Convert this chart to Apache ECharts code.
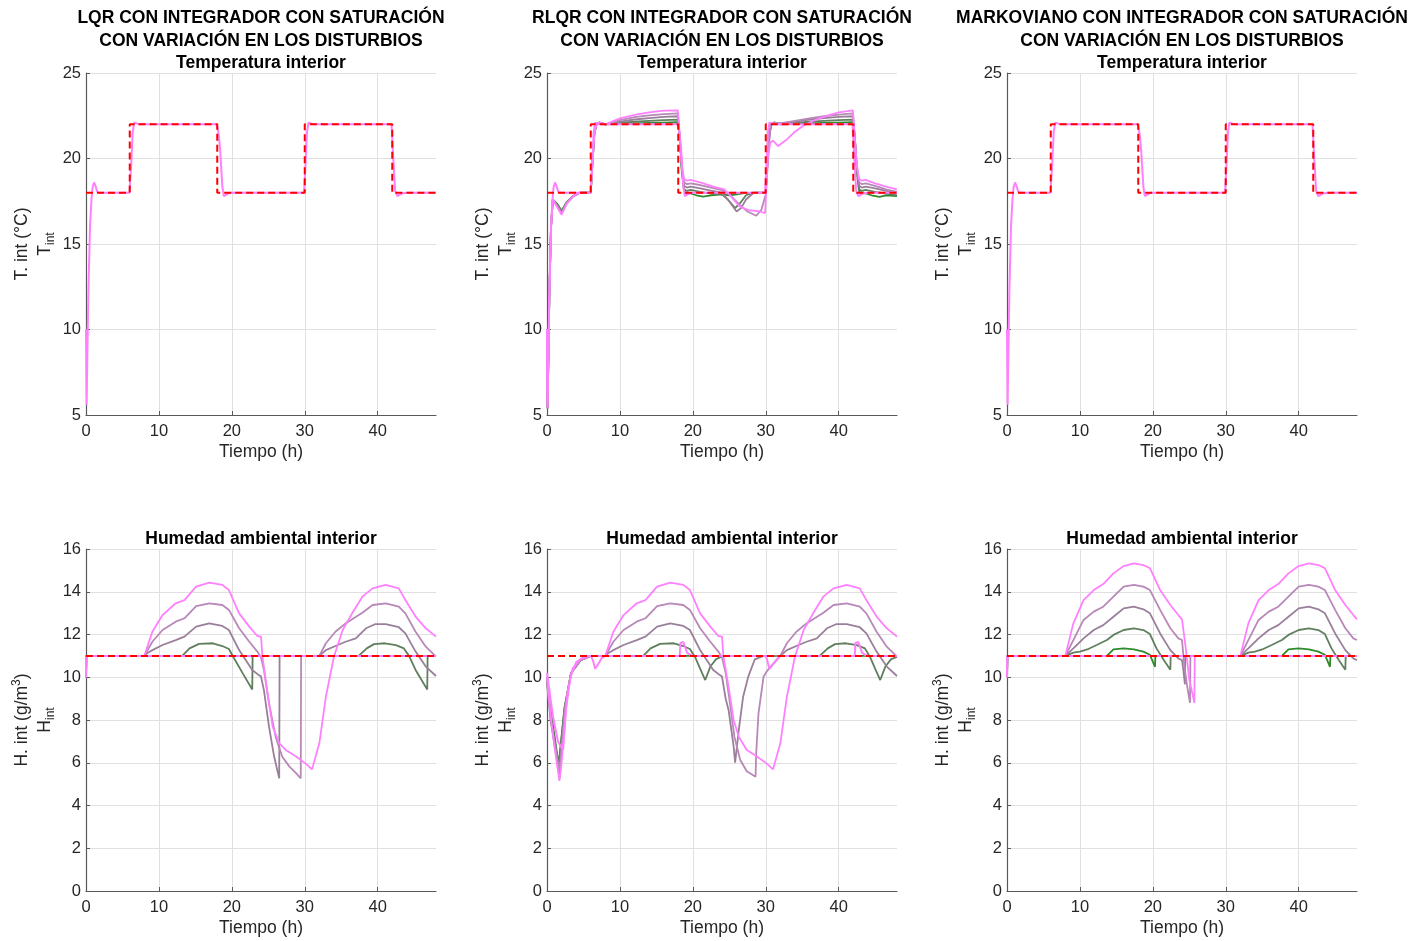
<!DOCTYPE html>
<html>
<head>
<meta charset="utf-8">
<script src="https://cdn.jsdelivr.net/npm/echarts@6/dist/echarts.min.js"></script>
<style>
  html, body { margin: 0; padding: 0; background: #fff; }
  #chart { width: 1416px; height: 941px; }
</style>
</head>
<body>
<div id="chart"></div>
<script>
// ---- data (t in hours, value) ----
const xTicks = [0, 10, 20, 30, 40]
const refT = [[0, 18], [6, 18], [6, 22], [18, 22], [18, 18], [30, 18], [30, 22], [42, 22], [42, 18], [48, 18]]
const refH = [[0, 11], [48, 11]]

// pink curve that tracks the reference (all three temperature plots)
const trackT = [[0, 10], [0.08, 5.6], [0.32, 12.1], [0.55, 16], [0.75, 17.6], [0.9, 18.3], [1.1, 18.6], [1.3, 18.4], [1.55, 18.05], [1.9, 18],
  [5.95, 18], [6.2, 19.6], [6.4, 21.5], [6.6, 22.1], [6.85, 22.2], [7.3, 22], [17.95, 22], [18.2, 21.4], [18.4, 20.5], [18.7, 18.35],
  [18.9, 17.8], [19.3, 17.9], [19.8, 18], [29.9, 18], [30.1, 19.6], [30.3, 21.5], [30.5, 22.1], [30.75, 22.2], [31.2, 22],
  [41.9, 22], [42.1, 20.3], [42.4, 18.1], [42.7, 17.8], [43.3, 17.95], [44, 18], [48, 18]]

// RLQR temperature
const rlqrT1 = [[0, 10], [0.08, 5.4], [0.32, 12], [0.55, 16], [0.8, 17.6], [1.0, 17.7], [1.4, 17.35], [2.0, 16.95], [2.7, 17.45], [3.6, 17.8], [4.5, 18], [6, 18],
  [6.2, 19.5], [6.5, 21.5], [6.8, 22], [7.2, 22.1], [8, 22], [10, 22.02], [12, 22.05], [14, 22.08], [16, 22.1], [17.95, 22.12],
  [18.2, 21.3], [18.5, 19.2], [18.8, 18.1], [19.1, 17.95], [19.6, 17.98], [20.5, 17.85], [21.4, 17.77], [22.5, 17.85], [24, 17.9], [25, 17.85], [26, 17.9], [27, 17.98], [30, 18],
  [30.2, 19.5], [30.5, 21.5], [30.8, 22], [31.2, 22.1], [32, 22], [34, 22.02], [36, 22.05], [38, 22.08], [40, 22.1], [41.95, 22.12],
  [42.2, 21.3], [42.5, 19.2], [42.8, 18.1], [43.1, 17.95], [43.6, 17.98], [44.5, 17.85], [45.6, 17.75], [46.5, 17.85], [48, 17.8]]
const rlqrT2 = [[0, 10], [0.08, 5.4], [0.32, 12], [0.55, 16], [0.8, 17.6], [1.0, 17.7], [1.4, 17.3], [2.0, 16.9], [2.7, 17.45], [3.6, 17.8], [4.5, 18], [6, 18],
  [6.2, 19.5], [6.5, 21.5], [6.8, 22], [7.2, 22.1], [8, 22], [10, 22.08], [12, 22.15], [14, 22.2], [16, 22.25], [17.95, 22.27],
  [18.2, 21.3], [18.5, 19.3], [18.8, 18.2], [19.2, 18.1], [19.7, 18.16], [21, 18.05], [22.5, 17.95], [24, 17.9], [24.8, 17.6], [25.8, 17.1], [26.5, 17.4], [27.3, 17.85], [28.3, 18], [30, 18],
  [30.2, 19.5], [30.5, 21.5], [30.8, 22], [31.2, 22.1], [32, 22.02], [34, 22.08], [36, 22.15], [38, 22.2], [40, 22.25], [41.95, 22.27],
  [42.2, 21.3], [42.5, 19.3], [42.8, 18.2], [43.2, 18.1], [43.7, 18.16], [45, 18.05], [46.5, 17.95], [48, 17.85]]
const rlqrT3 = [[0, 10], [0.08, 5.4], [0.32, 12], [0.55, 16], [0.8, 17.6], [1.0, 17.65], [1.4, 17.25], [2.0, 16.85], [2.7, 17.4], [3.6, 17.8], [4.5, 18], [6, 18],
  [6.2, 19.5], [6.5, 21.5], [6.8, 22], [7.2, 22.1], [8, 22], [10, 22.15], [12, 22.28], [14, 22.36], [16, 22.43], [17.95, 22.47],
  [18.2, 21.3], [18.5, 19.4], [18.8, 18.4], [19.2, 18.3], [19.7, 18.36], [21, 18.25], [22.5, 18.12], [24, 18.0], [24.8, 17.6], [26, 16.9], [26.6, 17.1], [27.3, 17.6], [28.3, 17.98], [29, 18], [30, 18],
  [30.2, 19.5], [30.5, 21.5], [30.8, 22], [31.2, 22.1], [32, 22.05], [34, 22.15], [36, 22.28], [38, 22.36], [40, 22.43], [41.95, 22.47],
  [42.2, 21.3], [42.5, 19.4], [42.8, 18.4], [43.2, 18.3], [43.7, 18.36], [45, 18.25], [46.5, 18.1], [48, 17.95]]
const rlqrT4 = [[0, 10], [0.08, 5.4], [0.32, 12], [0.55, 16], [0.8, 17.6], [1.0, 17.65], [1.4, 17.2], [2.0, 16.8], [2.7, 17.4], [3.6, 17.8], [4.5, 18], [6, 18],
  [6.2, 19.5], [6.5, 21.5], [6.8, 22], [7.2, 22.1], [8, 22], [10, 22.25], [12, 22.42], [14, 22.52], [16, 22.6], [17.95, 22.64],
  [18.2, 21.3], [18.5, 19.5], [18.8, 18.6], [19.2, 18.5], [19.7, 18.55], [21, 18.45], [22.5, 18.3], [24, 18.15], [25, 17.9], [26.4, 17.3], [27.5, 16.9], [28.7, 16.65], [29.4, 17.0], [30, 17.9],
  [30.3, 20], [30.7, 22], [31, 22.1], [32, 22.05], [34, 22.2], [36, 22.35], [38, 22.47], [40, 22.57], [41.95, 22.64],
  [42.2, 21.3], [42.5, 19.5], [42.8, 18.6], [43.2, 18.5], [43.7, 18.55], [45, 18.4], [46.5, 18.2], [48, 18.05]]
const rlqrT5 = [[0, 10], [0.08, 5.4], [0.32, 12], [0.55, 16], [0.8, 17.6], [1.0, 17.6], [1.4, 17.15], [2.0, 16.7], [2.7, 17.35], [3.6, 17.8], [4.5, 18], [6, 18],
  [6.2, 19.5], [6.5, 21.5], [6.8, 22], [7.2, 22.1], [8, 22], [10, 22.35], [12, 22.55], [14, 22.7], [16, 22.8], [17.95, 22.82],
  [18.2, 21.3], [18.5, 19.6], [18.8, 18.8], [19.2, 18.7], [19.7, 18.75], [21, 18.6], [22.8, 18.35], [24.3, 18.2], [25, 17.9], [26.4, 17.2], [27.5, 17.0], [29.2, 16.9], [29.9, 16.8],
  [30.05, 18], [30.3, 20], [30.6, 20.9], [31, 21.05], [31.7, 20.73], [32.8, 21.08], [34, 21.57], [35.1, 21.9], [36.5, 22.2], [38, 22.45], [40, 22.7], [41.95, 22.82],
  [42.2, 21.3], [42.5, 19.6], [42.8, 18.8], [43.2, 18.7], [43.7, 18.75], [45, 18.55], [46.5, 18.35], [48, 18.2]]

// humidity: pink curve that tracks the reference
const trackH = [[0, 10], [0.05, 11], [48, 11]]
const rlqrTrackH = [[0, 10.2], [0.8, 8.2], [1.5, 7], [2.2, 6.6], [2.6, 8.5], [3.2, 10], [4, 10.7], [5, 10.95], [6, 11], [6.3, 10.8], [6.6, 10.4], [7, 10.6], [7.5, 10.9], [8, 11],
  [18.2, 11], [18.3, 11.6], [18.7, 11.65], [19.2, 11.15], [19.6, 11.05], [20, 11], [30, 11], [30.2, 10.8], [30.5, 10.4], [31, 10.6], [32, 11],
  [42.2, 11], [42.3, 11.6], [42.7, 11.65], [43.2, 11.15], [43.6, 11.05], [44, 11], [48, 11]]

// LQR humidity
const lqrH1 = [[0, 10], [0.05, 11], [48, 11]]
const lqrH2 = [[0, 10], [0.05, 11], [13.2, 11], [14.2, 11.35], [15.5, 11.56], [17.4, 11.59], [18.7, 11.46], [19.6, 11.32], [20.3, 10.89], [21.5, 10.18], [22.8, 9.43], [22.85, 11],
  [37.4, 11], [38.5, 11.35], [39.5, 11.55], [41, 11.59], [42.5, 11.5], [43.6, 11.35], [44.3, 11.0], [45.2, 10.34], [46.8, 9.43], [46.85, 11], [48, 11]]
const lqrH3 = [[0, 10], [0.05, 11], [8, 11], [8.5, 11.15], [9.1, 11.27], [10.5, 11.51], [12.3, 11.74], [13.5, 11.9], [15.1, 12.37], [16.9, 12.52], [18.7, 12.4], [19.6, 12.21],
  [21, 11.27], [21.9, 10.81], [22.8, 10.34], [23.7, 10.1], [24, 10.03], [24.4, 9.4], [25.1, 7.69], [25.8, 6.29], [26.5, 5.27], [26.55, 11], [32, 11],
  [32.9, 11.27], [34.2, 11.46], [35.6, 11.66], [37, 11.82], [38.4, 12.29], [39.7, 12.49], [41.1, 12.49], [42.9, 12.34], [43.8, 12.05], [45.2, 11.2], [46.6, 10.5], [48, 10.06]]
const lqrH4 = [[0, 10], [0.05, 11], [8, 11], [8.5, 11.3], [9.1, 11.66], [10.5, 12.21], [12.3, 12.6], [13.5, 12.76], [15.1, 13.33], [16.9, 13.46], [18.7, 13.38], [19.6, 13.15],
  [21, 12.29], [22.4, 11.66], [23.5, 11.2], [24, 10.93], [24.4, 10.34], [25.1, 8.78], [26, 7.22], [26.9, 6.29], [27.9, 5.82], [28.8, 5.51], [29.45, 5.27], [29.5, 11], [32, 11],
  [32.9, 11.59], [34.2, 12.13], [35.6, 12.52], [36.5, 12.71], [37.9, 13.02], [39.3, 13.38], [41.1, 13.46], [42.9, 13.3], [43.8, 12.99], [45.2, 12.13], [46.6, 11.43], [48, 10.96]]
const lqrH5 = [[0, 10], [0.05, 11], [8, 11], [9.1, 12.13], [10.5, 12.91], [12.3, 13.46], [13.5, 13.61], [15.1, 14.24], [16.9, 14.43], [18.7, 14.32], [19.6, 14.08],
  [21, 12.99], [22.4, 12.37], [23.5, 11.93], [24, 11.9], [24.2, 10.96], [24.9, 9.25], [25.6, 7.69], [26.5, 6.91], [27.4, 6.6], [28.8, 6.29], [30.1, 5.97], [31, 5.69],
  [32, 6.91], [32.9, 9.09], [34, 10.96], [35.2, 12.21], [36.5, 12.99], [37.9, 13.77], [39.3, 14.16], [41.1, 14.32], [42.9, 14.16], [43.8, 13.61], [45.2, 12.84], [46.6, 12.29], [48, 11.9]]

// RLQR humidity
const rlqrH1 = [[0, 10], [0.5, 8.5], [1.6, 5.9], [2.4, 8.5], [3.3, 10.2], [4.6, 10.8], [6, 11], [48, 11]]
const rlqrH2 = [[0, 9.8], [0.5, 8.3], [1.6, 5.8], [2.4, 8.6], [3.3, 10.2], [4.6, 10.8], [6, 11], [13.2, 11], [14.2, 11.35], [15.5, 11.56], [17.4, 11.59], [18.7, 11.46], [19.6, 11.32],
  [20.3, 10.95], [21, 10.4], [21.7, 9.87], [22.4, 10.5], [23.2, 10.85], [24, 10.98], [25, 11], [37.4, 11], [38.5, 11.35], [39.5, 11.55], [41, 11.59], [42.5, 11.5], [43.6, 11.35],
  [44.3, 10.95], [45, 10.4], [45.7, 9.87], [46.4, 10.5], [47.2, 10.85], [48, 10.95]]
const rlqrH3 = [[0, 9.7], [0.5, 8], [1.75, 5.3], [2.5, 8.6], [3.3, 10.2], [4.6, 10.8], [6, 11], [8, 11], [8.5, 11.15], [9.1, 11.27], [10.5, 11.51], [12.3, 11.74], [13.5, 11.9],
  [15.1, 12.37], [16.9, 12.52], [18.7, 12.4], [19.6, 12.21], [21, 11.27], [21.9, 10.81], [22.8, 10.34], [23.7, 10.1], [24, 10.03], [24.5, 9.0], [24.9, 8.47], [25.6, 6.75], [25.8, 6.0],
  [26.3, 7.53], [26.9, 9.09], [27.6, 10.03], [28.5, 10.84], [29.7, 11], [32, 11], [32.9, 11.27], [34.2, 11.46], [35.6, 11.66], [37, 11.82], [38.4, 12.29], [39.7, 12.49], [41.1, 12.49],
  [42.9, 12.34], [43.8, 12.05], [45.2, 11.2], [46.6, 10.5], [48, 10.06]]
const rlqrH4 = [[0, 9.9], [0.5, 8], [1.7, 5.6], [2.5, 8.6], [3.3, 10.2], [4.6, 10.8], [6, 11], [8, 11], [8.5, 11.3], [9.1, 11.66], [10.5, 12.21], [12.3, 12.6], [13.5, 12.76],
  [15.1, 13.33], [16.9, 13.46], [18.7, 13.38], [19.6, 13.15], [21, 12.29], [22.4, 11.66], [23.5, 11.2], [24, 10.93], [24.5, 10.2], [25, 9.0], [25.7, 7.22], [26.5, 6.13], [27.4, 5.6],
  [28.6, 5.35], [28.7, 6.5], [29.0, 8.3], [29.7, 10.03], [30.2, 10.3], [30.7, 10.5], [31.3, 10.75], [32, 11], [32.9, 11.59], [34.2, 12.13], [35.6, 12.52], [36.5, 12.71], [37.9, 13.02],
  [39.3, 13.38], [41.1, 13.46], [42.9, 13.3], [43.8, 12.99], [45.2, 12.13], [46.6, 11.43], [48, 10.96]]
const rlqrH5 = [[0, 10], [0.5, 8.2], [1.0, 6.8], [1.7, 5.15], [2.0, 6.0], [2.4, 7.6], [2.8, 9.3], [3.5, 10.4], [4.6, 10.85], [6, 11], [8, 11], [9.1, 12.13], [10.5, 12.91],
  [12.3, 13.46], [13.5, 13.61], [15.1, 14.24], [16.9, 14.43], [18.7, 14.32], [19.6, 14.08], [21, 12.99], [22.4, 12.37], [23.5, 11.93], [24, 11.9], [24.2, 10.96], [24.9, 9.56],
  [25.6, 8.0], [26.3, 7.22], [27.4, 6.6], [28.8, 6.29], [30.1, 5.97], [31, 5.69], [32, 6.91], [32.9, 9.09], [34, 10.96], [35.2, 12.21], [36.5, 12.99], [37.9, 13.77], [39.3, 14.16],
  [41.1, 14.32], [42.9, 14.16], [43.8, 13.61], [45.2, 12.84], [46.6, 12.29], [48, 11.9]]

// Markoviano humidity
const markH1 = [[0, 10], [0.05, 11], [13.7, 11], [14.6, 11.3], [16, 11.35], [17.4, 11.3], [18.7, 11.2], [19.6, 11.05], [20.3, 10.49], [20.35, 11],
  [37.7, 11], [38.6, 11.3], [40, 11.35], [41.4, 11.3], [42.7, 11.2], [43.6, 11.05], [44.3, 10.49], [44.35, 11], [48, 11]]
const markH2 = [[0, 10], [0.05, 11], [8, 11], [9.1, 11.15], [10, 11.2], [11, 11.3], [12.3, 11.51], [13.7, 11.74], [14.6, 11.98], [16, 12.21], [17.4, 12.29], [18.7, 12.21], [19.6, 12.02],
  [20.5, 11.35], [21.5, 10.81], [22.4, 10.35], [22.45, 11], [32, 11], [33.1, 11.15], [34, 11.2], [35, 11.3], [36.3, 11.51], [37.7, 11.74], [38.6, 11.98], [40, 12.21], [41.4, 12.29],
  [42.7, 12.21], [43.6, 12.02], [44.5, 11.35], [45.5, 10.81], [46.4, 10.35], [46.45, 11], [48, 11]]
const markH3 = [[0, 10], [0.05, 11], [8, 11], [9.1, 11.35], [10.5, 11.82], [11.9, 12.21], [13.2, 12.44], [14.6, 12.83], [16, 13.22], [17.4, 13.3], [18.7, 13.18], [19.6, 12.99],
  [21, 12.05], [22.4, 11.27], [23.5, 10.88], [24, 10.8], [24.2, 10.3], [24.4, 9.67], [24.45, 11], [32, 11], [33.1, 11.35], [34.5, 11.82], [35.9, 12.21], [37.2, 12.44], [38.6, 12.83],
  [40, 13.22], [41.4, 13.3], [42.7, 13.18], [43.6, 12.99], [45, 12.05], [46.4, 11.27], [47.5, 10.88], [48, 10.8]]
const markH4 = [[0, 10], [0.05, 11], [8, 11], [9.1, 11.74], [10.5, 12.68], [11.9, 13.07], [13.2, 13.3], [14.6, 13.77], [16, 14.24], [17.4, 14.32], [18.7, 14.24], [19.6, 14.08],
  [21, 13.15], [22.4, 12.29], [23.5, 11.82], [24, 11.74], [24.3, 10.6], [24.7, 9.6], [25.1, 8.8], [25.15, 11], [32, 11], [33.1, 11.74], [34.5, 12.68], [35.9, 13.07], [37.2, 13.3],
  [38.6, 13.77], [40, 14.24], [41.4, 14.32], [42.7, 14.24], [43.6, 14.08], [45, 13.15], [46.4, 12.29], [47.5, 11.82], [48, 11.74]]
const markH5 = [[0, 10], [0.05, 11], [8, 11], [9.1, 12.52], [10.5, 13.61], [11.9, 14.08], [13.2, 14.36], [14.6, 14.86], [16, 15.2], [17.4, 15.33], [18.7, 15.25], [19.6, 15.1],
  [21, 14.08], [22.4, 13.38], [23.5, 12.91], [24, 12.71], [24.2, 12.75], [24.5, 11.4], [25, 9.9], [25.7, 8.8], [25.75, 11], [32, 11], [33.1, 12.52], [34.5, 13.61], [35.9, 14.08],
  [37.2, 14.36], [38.6, 14.86], [40, 15.2], [41.4, 15.33], [42.7, 15.25], [43.6, 15.1], [45, 14.08], [46.4, 13.38], [47.5, 12.91], [48, 12.71]]

// ---- styling ----
const FONT = '"Liberation Sans", Arial, sans-serif'
const TXT = '#262626'
const AXIS = '#595959'
const lineColors = ['#2f8a2f', '#5f7f5f', '#9a7f9a', '#b888b8', '#ff80ff']
const PINK = '#ff80ff'

const colX = [86, 547, 1007]
const rowY = [73, 549]
const plotW = 350
const plotH = 342

const topTitles = [
  'LQR CON INTEGRADOR CON SATURACIÓN\nCON VARIACIÓN EN LOS DISTURBIOS\nTemperatura interior',
  'RLQR CON INTEGRADOR CON SATURACIÓN\nCON VARIACIÓN EN LOS DISTURBIOS\nTemperatura interior',
  'MARKOVIANO CON INTEGRADOR CON SATURACIÓN\nCON VARIACIÓN EN LOS DISTURBIOS\nTemperatura interior'
]

const panels = [
  { row: 0, col: 0, curves: [], track: trackT, ref: refT },
  { row: 0, col: 1, curves: [rlqrT1, rlqrT2, rlqrT3, rlqrT4, rlqrT5], track: trackT, ref: refT },
  { row: 0, col: 2, curves: [], track: trackT, ref: refT },
  { row: 1, col: 0, curves: [lqrH1, lqrH2, lqrH3, lqrH4, lqrH5], track: trackH, ref: refH },
  { row: 1, col: 1, curves: [rlqrH1, rlqrH2, rlqrH3, rlqrH4, rlqrH5], track: rlqrTrackH, ref: refH },
  { row: 1, col: 2, curves: [markH1, markH2, markH3, markH4, markH5], track: trackH, ref: refH }
]

const chart = echarts.init(document.getElementById('chart'), null, { renderer: 'canvas' })

const grid = [], xAxis = [], yAxis = [], series = [], title = []

topTitles.forEach((t, i) => {
  title.push({
    text: t, left: colX[i] + plotW / 2, top: 7, textAlign: 'center', padding: 0,
    textStyle: { fontFamily: FONT, fontSize: 17.5, fontWeight: 'bold', color: '#000', lineHeight: 22.5 }
  })
  title.push({
    text: 'Humedad ambiental interior', left: colX[i] + plotW / 2, top: 528, textAlign: 'center', padding: 0,
    textStyle: { fontFamily: FONT, fontSize: 17.5, fontWeight: 'bold', color: '#000', lineHeight: 22.5 }
  })
})

const richName = {
  a: { fontFamily: FONT, fontSize: 17.5, color: TXT, lineHeight: 23 },
  s: { fontFamily: FONT, fontSize: 12, color: TXT, lineHeight: 23, verticalAlign: 'bottom' },
  p: { fontFamily: FONT, fontSize: 12, color: TXT, lineHeight: 23, verticalAlign: 'top' }
}

panels.forEach((p, i) => {
  const isTemp = p.row === 0
  grid.push({ left: colX[p.col], top: rowY[p.row], width: plotW, height: plotH, outerBoundsMode: 'none', containLabel: false })
  xAxis.push({
    type: 'value', gridIndex: i, min: 0, max: 48, interval: 10,
    name: 'Tiempo (h)', nameLocation: 'middle', nameGap: 28,
    nameTextStyle: { fontFamily: FONT, fontSize: 17.5, color: TXT },
    axisLine: { onZero: false, lineStyle: { color: AXIS, width: 1.2 } },
    axisTick: { inside: true, length: 4, lineStyle: { color: AXIS } },
    axisLabel: { fontFamily: FONT, fontSize: 16.5, color: TXT, margin: 8, showMaxLabel: false,
      formatter: v => (xTicks.indexOf(v) >= 0 ? String(v) : '') },
    splitLine: { show: true, showMaxLine: false, lineStyle: { color: '#e0e0e0', width: 1 } }
  })
  yAxis.push({
    type: 'value', gridIndex: i,
    min: isTemp ? 5 : 0, max: isTemp ? 25 : 16, interval: isTemp ? 5 : 2,
    name: isTemp ? '{a|T. int (°C)}\n{a|T}{s|int}' : '{a|H. int (g/m}{p|3}{a|)}\n{a|H}{s|int}',
    nameLocation: 'middle', nameGap: 29, nameRotate: 90,
    nameTextStyle: { fontFamily: FONT, fontSize: 17.5, color: TXT, rich: richName },
    axisLine: { show: true, onZero: false, lineStyle: { color: AXIS, width: 1.2 } },
    axisTick: { show: true, inside: true, length: 4, lineStyle: { color: AXIS } },
    axisLabel: { fontFamily: FONT, fontSize: 16.5, color: TXT, margin: 5 },
    splitLine: { show: true, lineStyle: { color: '#e0e0e0', width: 1 } }
  })
  p.curves.forEach((d, k) => {
    series.push({
      type: 'line', xAxisIndex: i, yAxisIndex: i, data: d, symbol: 'none', showSymbol: false,
      lineStyle: { color: lineColors[k], width: 1.8 }, itemStyle: { color: lineColors[k] }, z: 2 + k
    })
  })
  series.push({
    type: 'line', xAxisIndex: i, yAxisIndex: i, data: p.track, symbol: 'none', showSymbol: false,
    lineStyle: { color: PINK, width: 2 }, itemStyle: { color: PINK }, z: 8
  })
  series.push({
    type: 'line', xAxisIndex: i, yAxisIndex: i, data: p.ref, symbol: 'none', showSymbol: false,
    lineStyle: { color: '#ff0000', width: 2, type: [7, 4] }, itemStyle: { color: '#ff0000' }, z: 9
  })
})

chart.setOption({
  animation: false,
  backgroundColor: '#ffffff',
  title: title,
  grid: grid,
  xAxis: xAxis,
  yAxis: yAxis,
  series: series
})
</script>
</body>
</html>
